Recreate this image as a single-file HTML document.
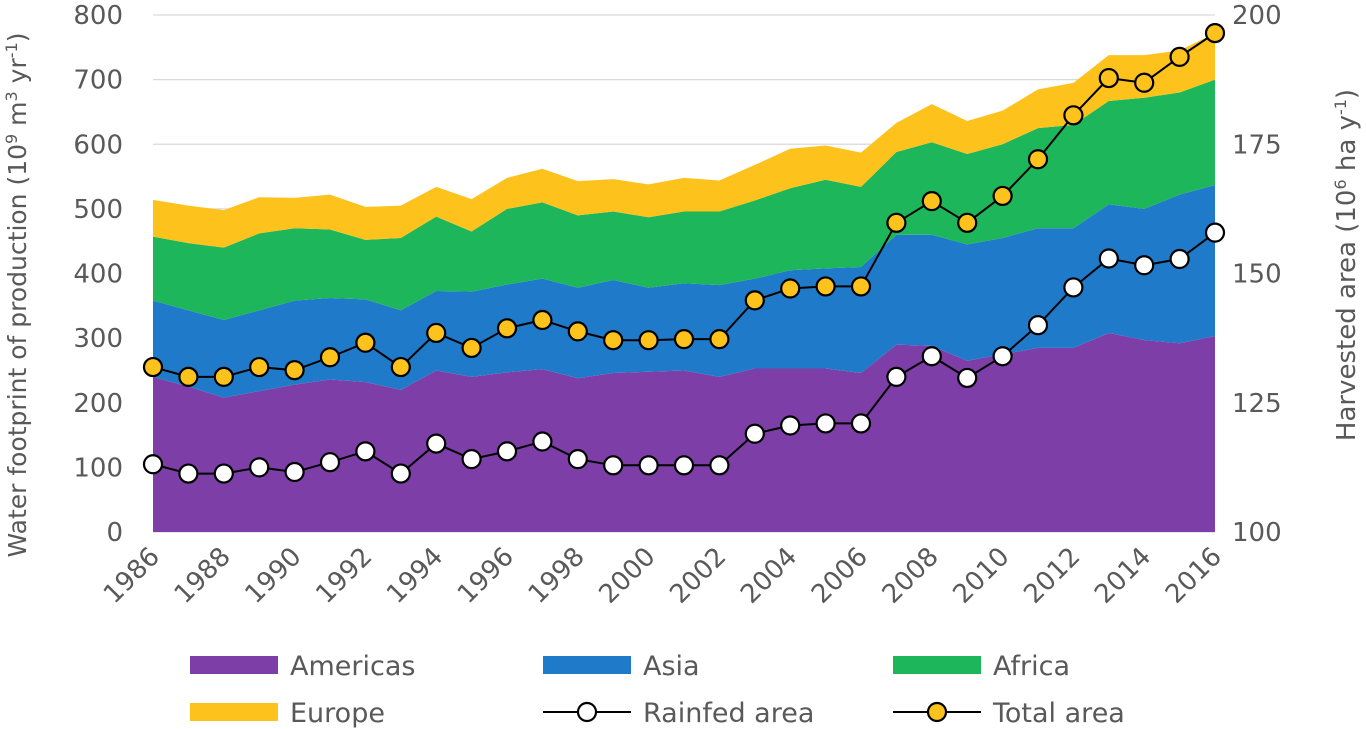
<!DOCTYPE html>
<html><head><meta charset="utf-8"><style>
html,body{margin:0;padding:0;background:#fff;}
svg{display:block;font-family:"DejaVu Sans","Liberation Sans",sans-serif;}
</style></head><body>
<svg id="chart" width="1366" height="729"></svg>
<script>
const years=[1986,1987,1988,1989,1990,1991,1992,1993,1994,1995,1996,1997,1998,1999,2000,2001,2002,2003,2004,2005,2006,2007,2008,2009,2010,2011,2012,2013,2014,2015,2016];
const americas=[240,225,208,218,228,236,232,220,250,240,247,252,238,246,248,250,240,253,253,253,246,290,288,265,275,285,285,308,297,292,303];
const asia=[118,118,120,125,130,126,128,123,123,132,136,140,140,144,130,135,142,139,152,155,164,170,172,180,180,185,185,199,203,230,234];
const africa=[99,104,112,119,112,106,92,112,115,93,117,118,112,106,109,111,114,121,127,137,124,128,143,140,145,155,160,160,172,158,163];
const europe=[57,58,58,56,47,54,51,50,46,50,48,52,53,50,51,52,48,55,61,53,53,45,59,51,52,60,65,71,66,65,72];
const rainfedArea=[113.1,111.3,111.3,112.5,111.6,113.5,115.6,111.3,117.1,114.1,115.6,117.5,114.1,112.9,112.9,112.9,112.9,119,120.6,121,121,130,134,129.8,134,140,147.3,152.9,151.6,152.8,157.9];
const totalArea=[131.9,130,130,131.9,131.3,133.8,136.6,131.9,138.5,135.6,139.4,141,138.8,137.1,137.1,137.3,137.3,144.8,147.1,147.5,147.5,159.8,164,159.8,165,172.1,180.6,187.8,186.9,191.9,196.5];
const leftTicks=[0,100,200,300,400,500,600,700,800];
const rightTicks=[100,125,150,175,200];
const xLabels=[1986,1988,1990,1992,1994,1996,1998,2000,2002,2004,2006,2008,2010,2012,2014,2016];

const svg=document.getElementById('chart');
const NS='http://www.w3.org/2000/svg';
const X0=153,X1=1215,Y0=532,Y1=15;
const x=yr=>X0+(yr-years[0])*(X1-X0)/(years[years.length-1]-years[0]);
const yL=v=>Y0-v*(Y0-Y1)/800;
const yR=v=>Y0-(v-100)*(Y0-Y1)/100;
function mk(tag,attrs,parent){const e=document.createElementNS(NS,tag);for(const k in attrs)e.setAttribute(k,attrs[k]);(parent||svg).appendChild(e);return e;}

leftTicks.forEach(t=>{
  const g=mk('line',{x1:X0,x2:X1,y1:yL(t),y2:yL(t),stroke:'#d9d9d9','stroke-width':1.3});
  
  
  const tx=mk('text',{x:123,y:yL(t)+9,'text-anchor':'end','font-size':26,fill:'#595959'});
  tx.textContent=t;
  
  
});
rightTicks.forEach(t=>{
  const tx=mk('text',{x:1232,y:yR(t)+9,'text-anchor':'start','font-size':26,fill:'#595959'});
  tx.textContent=t;
  
  
});

const series=[['americas',americas,'#7d3fa7'],['asia',asia,'#1f7ac9'],['africa',africa,'#1eb65b'],['europe',europe,'#fdc21b']];
let base=years.map(()=>0);
series.forEach(([name,vals,col])=>{
  const top=base.map((b,i)=>b+vals[i]);
  let d='M'+years.map((yr,i)=>x(yr)+','+yL(top[i])).join('L');
  for(let i=years.length-1;i>=0;i--)d+='L'+x(years[i])+','+yL(base[i]);
  d+='Z';
  const p=mk('path',{d:d,fill:col});
  
  
  base=top;
});

function lineSeries(name,vals,fill){
  const d='M'+years.map((yr,i)=>x(yr)+','+yR(vals[i])).join('L');
  const p=mk('path',{d:d,fill:'none',stroke:'#000','stroke-width':2});
  
  
  years.forEach((yr,i)=>{
    const c=mk('circle',{cx:x(yr),cy:yR(vals[i]),r:9,fill:fill,stroke:'#000','stroke-width':2.2});
    
    
  });
}
lineSeries('rainfed-area',rainfedArea,'#fff');
lineSeries('total-area',totalArea,'#fdc21b');

xLabels.forEach(yr=>{
  const tx=mk('text',{x:x(yr)+8,y:558,'text-anchor':'end','font-size':26,fill:'#595959',transform:'rotate(-45 '+(x(yr)+8)+' 558)'});
  tx.textContent=yr;
  
  
});

const lt=mk('text',{x:0,y:0,'text-anchor':'middle','font-size':25,fill:'#595959',transform:'translate(26 295) rotate(-90)'});


lt.innerHTML='Water footprint of production (10<tspan font-size="16" dy="-9">9</tspan><tspan dy="9"> m</tspan><tspan font-size="16" dy="-9">3</tspan><tspan dy="9"> yr</tspan><tspan font-size="16" dy="-9">-1</tspan><tspan dy="9">)</tspan>';
const rt=mk('text',{x:0,y:0,'text-anchor':'middle','font-size':26,fill:'#595959',transform:'translate(1355 265) rotate(-90)'});


rt.innerHTML='Harvested area (10<tspan font-size="16" dy="-9">6</tspan><tspan dy="9"> ha y</tspan><tspan font-size="16" dy="-9">-1</tspan><tspan dy="9">)</tspan>';

function legendSwatch(name,label,x0,y0,col){
  const g=mk('g',{});
  
  
  mk('rect',{x:x0,y:y0-9,width:88,height:18,fill:col},g);
  const t=mk('text',{x:x0+100,y:y0+10,'font-size':27,fill:'#595959'},g);t.textContent=label;
}
function legendLine(name,label,x0,y0,col){
  const g=mk('g',{});
  
  
  mk('line',{x1:x0,x2:x0+88,y1:y0,y2:y0,stroke:'#000','stroke-width':2},g);
  mk('circle',{cx:x0+44,cy:y0,r:9,fill:col,stroke:'#000','stroke-width':2.2},g);
  const t=mk('text',{x:x0+100,y:y0+10,'font-size':27,fill:'#595959'},g);t.textContent=label;
}
legendSwatch('americas','Americas',190,665,'#7d3fa7');
legendSwatch('asia','Asia',543,665,'#1f7ac9');
legendSwatch('africa','Africa',893,665,'#1eb65b');
legendSwatch('europe','Europe',190,712,'#fdc21b');
legendLine('rainfed-area','Rainfed area',543,712,'#fff');
legendLine('total-area','Total area',893,712,'#fdc21b');
</script>
</body></html>
